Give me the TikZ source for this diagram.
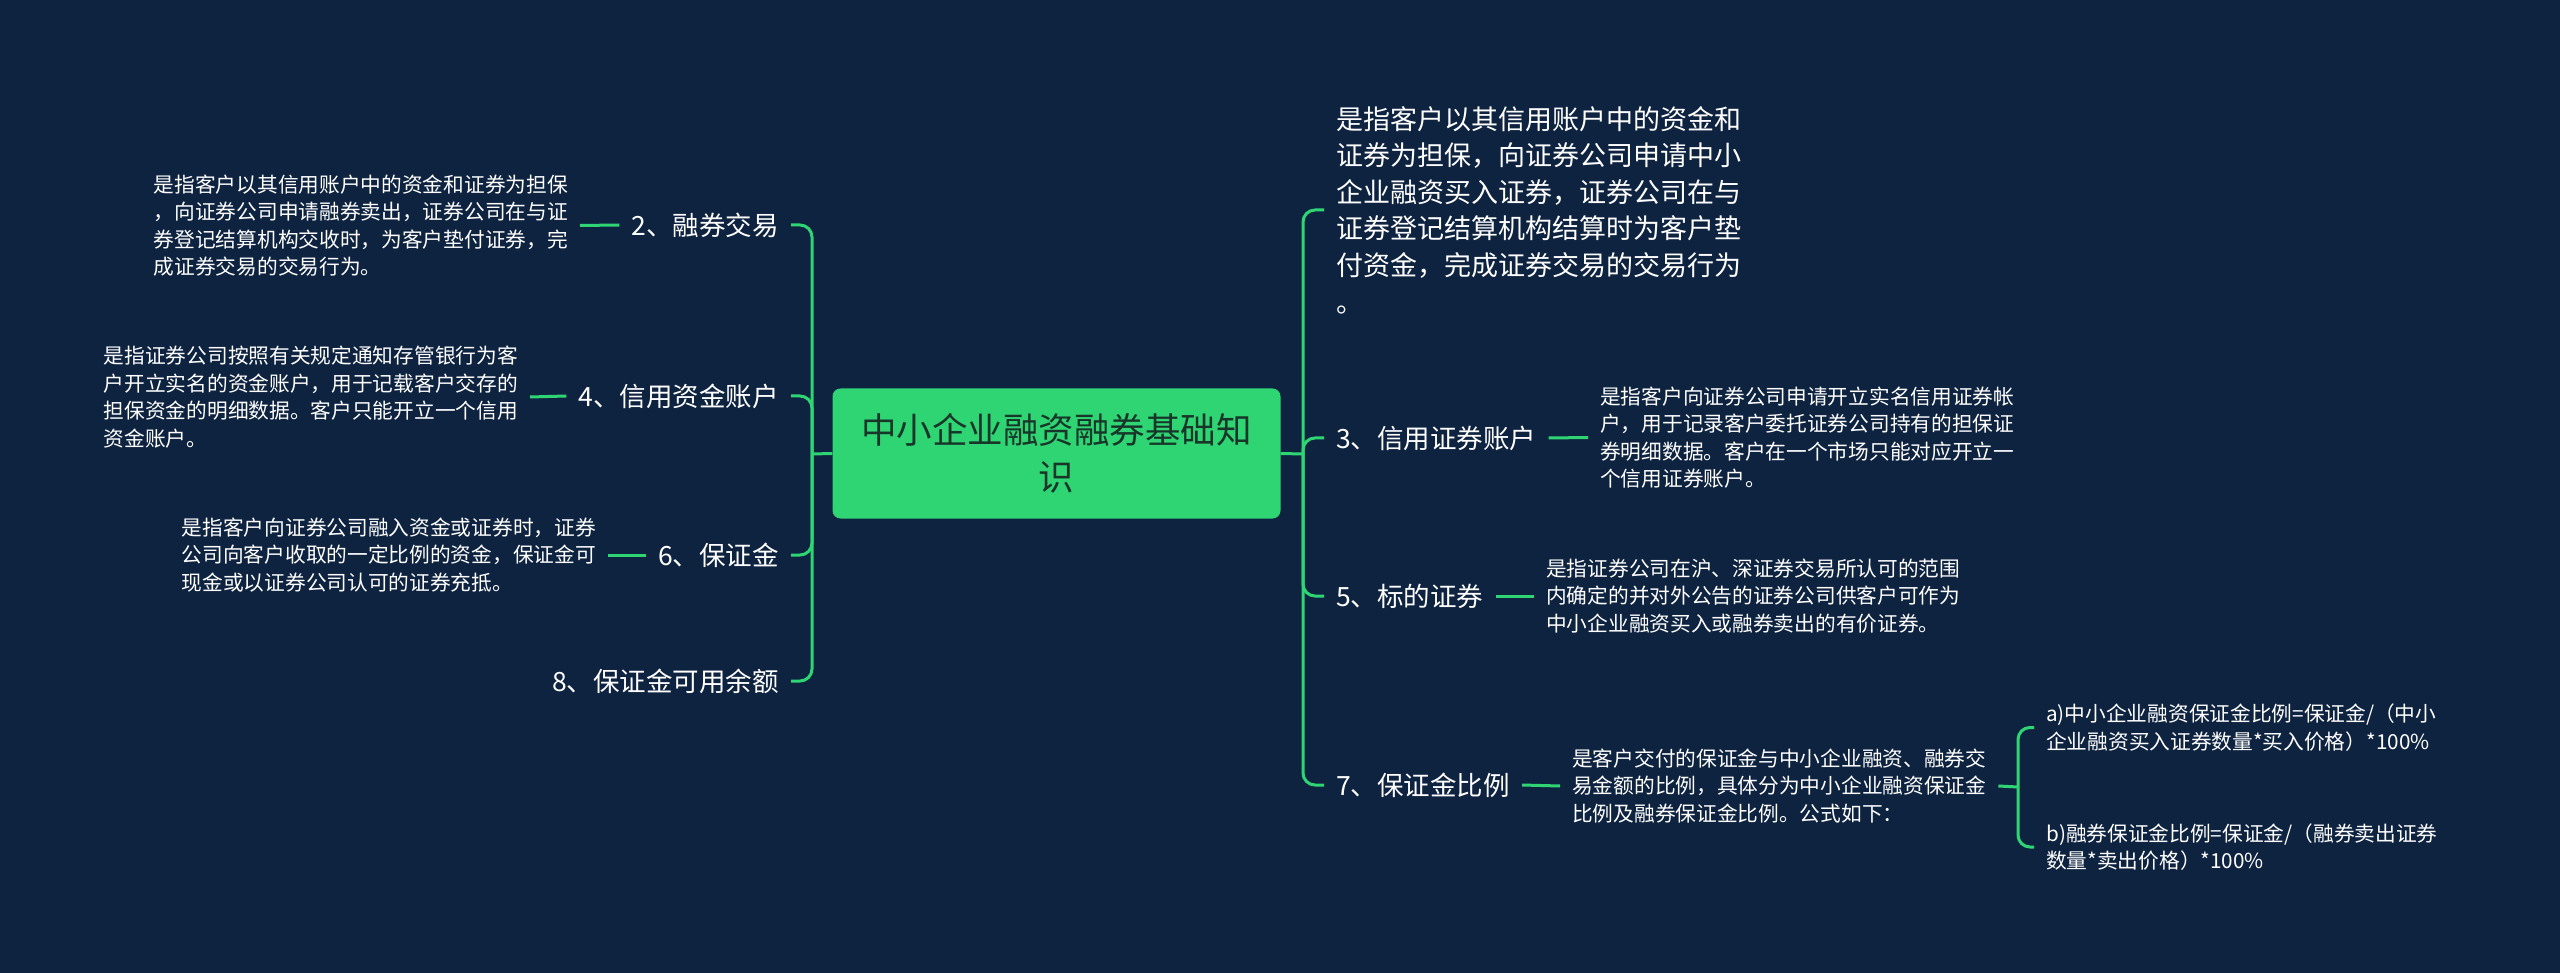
\documentclass[tikz,border=0pt]{standalone}
\usepackage{fontspec}
\setmainfont{Noto Sans CJK SC}
\usetikzlibrary{positioning}
\definecolor{bgnavy}{HTML}{0E2340}
\definecolor{linkgreen}{HTML}{2FD573}
\definecolor{rootfill}{HTML}{2FD573}
\definecolor{roottext}{HTML}{18352A}
\tikzset{
  rootblk/.style = {rectangle, rounded corners=8pt, fill=rootfill, text=roottext,
                    align=center, font=\fontsize{35.5}{47}\selectfont,
                    minimum width=448pt, minimum height=130pt, inner sep=0pt},
  branch/.style  = {text=white, font=\fontsize{26.5}{32}\selectfont,
                    inner xsep=12pt, inner ysep=3pt},
  note/.style    = {text=white, align=left, font=\fontsize{20.7}{27.5}\selectfont,
                    inner xsep=12pt, inner ysep=2pt},
  bignote/.style = {note, font=\fontsize{27}{36.6}\selectfont},
  link/.style    = {line width=3pt, draw=linkgreen},
  elbow/.style   = {link, rounded corners=12pt},
}
\begin{document}
\begin{tikzpicture}[x=1pt, y=1pt]
\fill[bgnavy] (0,0) rectangle (2560,-973);
\node[rootblk] (root) at (1056.5,-453.5) {中小企业融资融券基础知\\识};
\coordinate (lt) at (812,-454);
\coordinate (rt) at (1303,-454);
% left branches
\foreach \i/\y/\nm in {2/225/{2、融券交易}, 4/396/{4、信用资金账户},
                       6/555/{6、保证金}, 8/681/{8、保证金可用余额}}{
  \node[branch, anchor=east] (l\i) at (791,-\y) {\nm};
}
% right branches
\foreach \i/\y/\nm in {3/438/{3、信用证券账户}, 5/596/{5、标的证券},
                       7/785/{7、保证金比例}}{
  \node[branch, anchor=west] (r\i) at (1324,-\y) {\nm};
}
\node[bignote, anchor=west] (r1) at (1324,-210)
  {是指客户以其信用账户中的资金和\\证券为担保，向证券公司申请中小\\企业融资买入证券，证券公司在与\\证券登记结算机构结算时为客户垫\\付资金，完成证券交易的交易行为\\。};
% notes
\node[note, anchor=east] (d2) at (580,-225.5)
  {是指客户以其信用账户中的资金和证券为担保\\，向证券公司申请融券卖出，证券公司在与证\\券登记结算机构交收时，为客户垫付证券，完\\成证券交易的交易行为。};
\node[note, anchor=east] (d4) at (530,-397)
  {是指证券公司按照有关规定通知存管银行为客\\户开立实名的资金账户，用于记载客户交存的\\担保资金的明细数据。客户只能开立一个信用\\资金账户。};
\node[note, anchor=east] (d6) at (608,-555)
  {是指客户向证券公司融入资金或证券时，证券\\公司向客户收取的一定比例的资金，保证金可\\现金或以证券公司认可的证券充抵。};
\node[note, anchor=west] (d3) at (1588,-437.5)
  {是指客户向证券公司申请开立实名信用证券帐\\户，用于记录客户委托证券公司持有的担保证\\券明细数据。客户在一个市场只能对应开立一\\个信用证券账户。};
\node[note, anchor=west] (d5) at (1534,-596)
  {是指证券公司在沪、深证券交易所认可的范围\\内确定的并对外公告的证券公司供客户可作为\\中小企业融资买入或融券卖出的有价证券。};
\node[note, anchor=west] (d7) at (1560,-786)
  {是客户交付的保证金与中小企业融资、融券交\\易金额的比例，具体分为中小企业融资保证金\\比例及融券保证金比例。公式如下：};
\coordinate (bt) at (2018,-787);
\node[note, anchor=west] (sa) at (2034,-727.5)
  {a)中小企业融资保证金比例=保证金/（中小\\企业融资买入证券数量*买入价格）*100\%};
\node[note, anchor=west] (sb) at (2034,-847)
  {b)融券保证金比例=保证金/（融券卖出证券\\数量*卖出价格）*100\%};
% connectors
\draw[link] (root.west) -- (lt);
\draw[link] (root.east) -- (rt);
\foreach \i in {2,4,6,8}{\draw[elbow] (lt) |- (l\i.east);}
\foreach \i in {1,3,5,7}{\draw[elbow] (rt) |- (r\i.west);}
\foreach \i in {2,4,6}{\draw[link] (l\i.west) -- (d\i.east);}
\foreach \i in {3,5,7}{\draw[link] (r\i.east) -- (d\i.west);}
\draw[link] (d7.east) -- (bt);
\draw[elbow] (bt) |- (sa.west);
\draw[elbow] (bt) |- (sb.west);
\end{tikzpicture}
\end{document}
